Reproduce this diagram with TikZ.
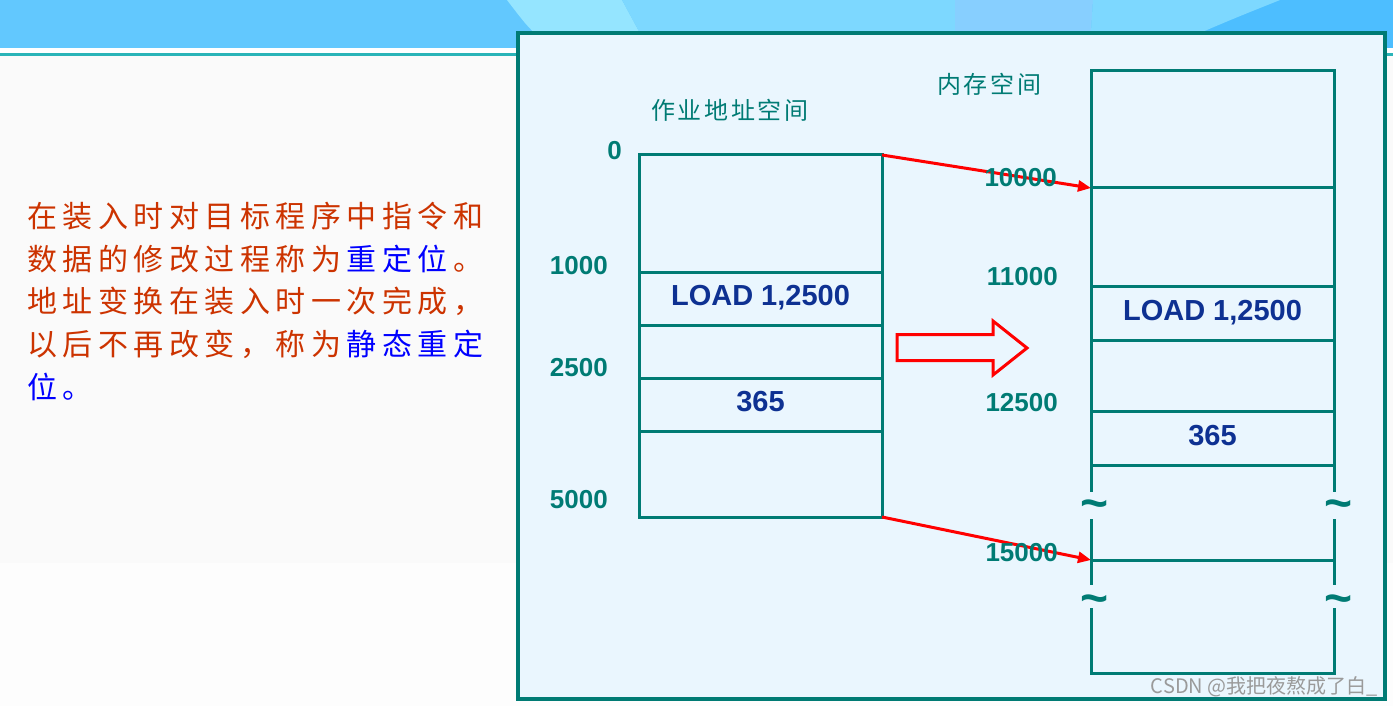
\documentclass[tikz,border=0pt]{standalone}
\usepackage{fontspec}
\setmainfont{Liberation Sans}
\newfontfamily\cjktitle[LetterSpace=11]{Noto Sans CJK SC}
\newfontfamily\cjkpara[LetterSpace=18.3]{Noto Sans CJK SC}
\newfontfamily\cjkplain{Noto Sans CJK SC}
\newcommand\lsk{\hspace{5.5pt}}
\usetikzlibrary{arrows.meta}
\definecolor{tealc}{HTML}{007B74}
\definecolor{panelbg}{HTML}{EAF6FE}
\definecolor{navyc}{HTML}{0E3192}
\definecolor{paraRed}{HTML}{CC3300}
\definecolor{paraBlue}{HTML}{0000FF}
\definecolor{bannerA}{HTML}{62C8FE}
\definecolor{bannerB}{HTML}{95E5FF}
\definecolor{bannerC}{HTML}{7DD8FF}
\definecolor{bannerD}{HTML}{87CFFF}
\definecolor{bannerE}{HTML}{4DBEFF}
\definecolor{rulec}{HTML}{2AB4B8}
\definecolor{pageA}{HTML}{FAFAFA}
\definecolor{pageB}{HTML}{FDFDFD}
\definecolor{wmark}{HTML}{9A9A9A}
\definecolor{arrred}{HTML}{FF0000}
\begin{document}
\begin{tikzpicture}[x=1pt,y=-1pt,
  cell/.style={draw=tealc,line width=3pt,minimum width=243pt,inner sep=0pt,
    text=navyc,font=\bfseries\fontsize{29}{29}\selectfont,text height=21pt,text depth=7pt},
  lbl/.style={anchor=east,inner sep=0pt,text=tealc,font=\bfseries\fontsize{26}{26}\selectfont},
  ttl/.style={anchor=west,inner sep=0pt,text=tealc,font=\cjktitle\fontsize{24}{24}\selectfont},
  para/.style={anchor=west,inner sep=0pt,text=paraRed,font=\cjkpara\fontsize{30}{30}\selectfont},
  tld/.style={inner sep=0pt,anchor=base,text=tealc,font=\bfseries\fontsize{48}{48}\selectfont},
  boxline/.style={draw=tealc,line width=3pt},
  redarr/.style={draw=arrred,line width=3pt,-{Triangle[length=13pt,width=11pt]}}]
\useasboundingbox (0,0) rectangle (1393,706);
% page background
\fill[pageB] (0,0) rectangle (1393,706);
\fill[pageA] (0,56) rectangle (1393,563);
\fill[white] (0,48) rectangle (1393,53.5);
\fill[rulec] (0,53.5) rectangle (1393,56);
% banner
\fill[bannerA] (0,0) rectangle (1393,48);
\fill[bannerE] (1150,0) rectangle (1393,48);
\fill[bannerB] (507,0) -- (622,0) -- (648,48) -- (553,48) .. controls (530,30) .. (507,0) -- cycle;
\fill[bannerC] (622,0) -- (955,0) -- (955,48) -- (648,48) -- cycle;
\fill[bannerD] (955,0) -- (1093,0) -- (1090,48) -- (955,48) -- cycle;
\fill[bannerC] (1093,0) -- (1280,0) .. controls (1230,20) .. (1165,48) -- (1090,48) -- cycle;
% panel
\draw[tealc,line width=4pt,fill=panelbg] (518,33) rectangle (1385,698.5);
% paragraph
\node[para] (p1) at (27,216.5) {在装入时对目标程序中指令和};
\node[para] (p2) at (27,259) {数据的修改过程称为\lsk\textcolor{paraBlue}{重定位}\lsk。};
\node[para] (p3) at (27,301.5) {地址变换在装入时一次完成，};
\node[para] (p4) at (27,344) {以后不再改变，称为\lsk\textcolor{paraBlue}{静态重定}};
\node[para] (p5) at (27,386.5) {\textcolor{paraBlue}{位。}};
% titles
\node[ttl] (t1) at (651,110) {作业地址空间};
\node[ttl] (t2) at (937,84.5) {内存空间};
% left box (job address space)
\node[cell,minimum height=117pt] (L1) at (760.5,213.5) {};
\node[cell,minimum height=53pt] (L2) at (760.5,298.5) {LOAD 1,2500};
\node[cell,minimum height=53pt] (L3) at (760.5,351.5) {};
\node[cell,minimum height=53pt] (L4) at (760.5,404.5) {365};
\node[cell,minimum height=86pt] (L5) at (760.5,474) {};
% right box (memory space)
\node[cell,minimum height=117pt] (R1) at (1212.5,129.5) {};
\node[cell,minimum height=98pt] (R2) at (1212.5,237) {};
\node[cell,minimum height=54pt] (R3) at (1212.5,313) {LOAD 1,2500};
\node[cell,minimum height=71pt] (R4) at (1212.5,375.5) {};
\node[cell,minimum height=54pt] (R5) at (1212.5,438) {365};
\draw[boxline] (1091,465) -- (1091,492);
\draw[boxline] (1334,465) -- (1334,492);
\draw[boxline] (1091,519) -- (1091,585);
\draw[boxline] (1334,519) -- (1334,585);
\draw[boxline] (1091,560) -- (1334,560);
\draw[boxline] (1091,608) -- (1091,673) -- (1334,673) -- (1334,608);
\node[tld] (tl1) at (1095,519) {\char`\~};
\node[tld] (tr1) at (1338.5,519) {\char`\~};
\node[tld] (tl2) at (1095,614) {\char`\~};
\node[tld] (tr2) at (1338.5,614) {\char`\~};
% mapping arrows
\coordinate (Ltop) at (882,155);
\coordinate (Lbot) at (882,517);
\coordinate (Rtop) at (1091,188);
\coordinate (R15) at (1091,560);
\draw[redarr] (Ltop) -- (Rtop);
\draw[redarr] (Lbot) -- (R15);
% big hollow arrow
\draw[arrred,line width=3pt,fill=panelbg,miter limit=10]
  (897,334.5) -- (993,334.5) -- (993,321) -- (1027,348) -- (993,375) -- (993,360.5) -- (897,360.5) -- cycle;
% address labels
\node[lbl] (a0) at (622,151) {0};
\node[lbl] (a1000) at (608,266) {1000};
\node[lbl] (a2500) at (608,368) {2500};
\node[lbl] (a5000) at (608,500) {5000};
\node[lbl] (b10000) at (1057,177.5) {10000};
\node[lbl] (b11000) at (1058,276.5) {11000};
\node[lbl] (b12500) at (1058,402.5) {12500};
\node[lbl] (b15000) at (1058,553) {15000};
% watermark
\node[anchor=east,inner sep=0pt,text=wmark,font=\cjkplain\fontsize{20}{20}\selectfont] (wm) at (1378,687) {CSDN @我把夜熬成了白\_};
\end{tikzpicture}
\end{document}
